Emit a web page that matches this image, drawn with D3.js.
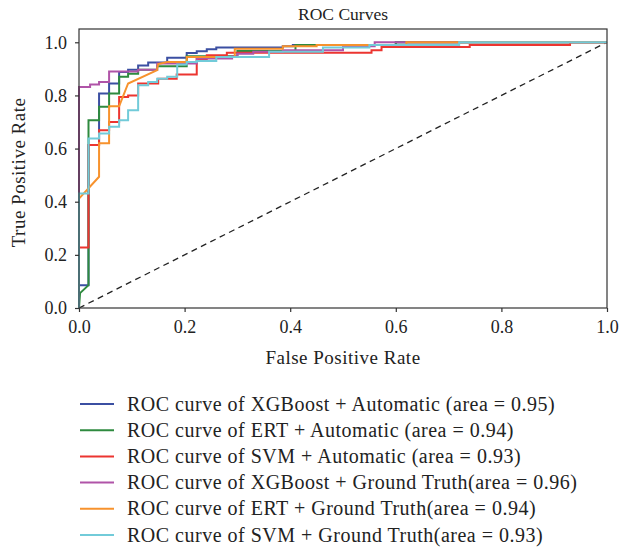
<!DOCTYPE html>
<html>
<head>
<meta charset="utf-8">
<script src="https://cdn.jsdelivr.net/npm/d3@7"></script>
<style>
  body { margin: 0; background: #fff; }
  svg { display: block; font-family: "Liberation Serif", "DejaVu Serif", serif; }
  .axis text { font-size: 18px; fill: #222; }
  .axis path, .axis line { stroke: #333; stroke-width: 1.2; }
</style>
</head>
<body>
<div id="chart"></div>
<script>
// ROC points [fpr, tpr]
const xgbAuto = [[0,0],[0,0.086],[0.018,0.086],[0.018,0.613],[0.038,0.613],[0.038,0.807],[0.057,0.807],[0.057,0.845],[0.076,0.845],[0.076,0.888],[0.093,0.888],[0.093,0.897],[0.112,0.897],[0.112,0.913],[0.131,0.913],[0.131,0.924],[0.167,0.924],[0.167,0.942],[0.204,0.942],[0.204,0.96],[0.223,0.96],[0.223,0.966],[0.242,0.966],[0.242,0.974],[0.26,0.974],[0.26,0.98],[0.386,0.98],[0.386,0.985],[0.405,0.985],[0.405,0.99],[0.6,0.99],[0.6,1],[1,1]];
const ertAuto = [[0,0],[0.002,0.056],[0.018,0.086],[0.018,0.707],[0.038,0.707],[0.038,0.757],[0.057,0.757],[0.057,0.807],[0.076,0.807],[0.076,0.87],[0.093,0.87],[0.093,0.882],[0.112,0.882],[0.112,0.897],[0.148,0.897],[0.148,0.91],[0.204,0.91],[0.204,0.947],[0.3,0.947],[0.3,0.967],[0.41,0.967],[0.41,0.99],[0.6,0.99],[0.6,1],[1,1]];
const svmAuto = [[0,0],[0,0.228],[0.018,0.228],[0.018,0.613],[0.038,0.613],[0.038,0.669],[0.057,0.669],[0.057,0.70],[0.076,0.70],[0.076,0.794],[0.093,0.794],[0.093,0.80],[0.112,0.80],[0.112,0.845],[0.15,0.845],[0.15,0.863],[0.185,0.863],[0.185,0.879],[0.223,0.879],[0.223,0.937],[0.242,0.937],[0.242,0.951],[0.28,0.951],[0.28,0.961],[0.554,0.961],[0.554,0.97],[0.573,0.97],[0.573,0.982],[0.74,0.982],[0.74,0.99],[0.93,0.99],[0.93,1],[1,1]];
const xgbGT = [[0,0],[0,0.832],[0.021,0.832],[0.021,0.841],[0.038,0.841],[0.038,0.851],[0.057,0.851],[0.057,0.89],[0.112,0.89],[0.112,0.897],[0.148,0.897],[0.148,0.92],[0.223,0.92],[0.223,0.939],[0.29,0.939],[0.29,0.947],[0.3,0.947],[0.3,0.957],[0.33,0.957],[0.33,0.964],[0.386,0.964],[0.386,0.97],[0.5,0.97],[0.5,0.985],[0.56,0.985],[0.56,1],[1,1]];
const ertGT = [[0,0],[0,0.412],[0.038,0.494],[0.038,0.62],[0.057,0.62],[0.057,0.759],[0.076,0.759],[0.093,0.845],[0.148,0.895],[0.148,0.9],[0.15,0.918],[0.167,0.926],[0.204,0.926],[0.204,0.945],[0.295,0.945],[0.295,0.976],[0.386,0.976],[0.386,0.985],[0.45,0.985],[0.45,0.99],[0.62,0.99],[0.62,1],[1,1]];
const svmGT = [[0,0],[0,0.431],[0.018,0.431],[0.018,0.638],[0.038,0.638],[0.038,0.657],[0.057,0.657],[0.057,0.682],[0.076,0.682],[0.076,0.707],[0.093,0.707],[0.093,0.744],[0.112,0.744],[0.112,0.838],[0.131,0.838],[0.131,0.851],[0.148,0.851],[0.148,0.863],[0.167,0.863],[0.167,0.87],[0.186,0.87],[0.186,0.916],[0.204,0.916],[0.204,0.926],[0.223,0.926],[0.223,0.93],[0.26,0.93],[0.26,0.945],[0.36,0.945],[0.36,0.964],[0.462,0.964],[0.462,0.98],[0.55,0.98],[0.55,0.99],[0.72,0.99],[0.72,1],[1,1]];

const labels = [
  'ROC curve of XGBoost + Automatic (area = 0.95)',
  'ROC curve of ERT + Automatic (area = 0.94)',
  'ROC curve of SVM + Automatic (area = 0.93)',
  'ROC curve of XGBoost + Ground Truth(area = 0.96)',
  'ROC curve of ERT + Ground Truth(area = 0.94)',
  'ROC curve of SVM + Ground Truth(area = 0.93)'
];
const colors = ['#3b4fa2', '#2e8a3f', '#ec3530', '#b054a8', '#f7922d', '#72cbd9'];
const curves = [xgbAuto, ertAuto, svmAuto, xgbGT, ertGT, svmGT];
const xTicks = [0, 0.2, 0.4, 0.6, 0.8, 1.0];
const yTicks = [0, 0.2, 0.4, 0.6, 0.8, 1.0];

const serif = '"Liberation Serif", "DejaVu Serif", serif';
const width = 619;
const height = 548;
const margin = { top: 29, right: 12, bottom: 240, left: 79 };

const svg = d3.select('#chart')
  .append('svg')
  .attr('width', width)
  .attr('height', height);

const xScale = d3.scaleLinear().domain([0, 1]).range([margin.left, width - margin.right]);
const yScale = d3.scaleLinear().domain([0, 1.05]).range([height - margin.bottom, margin.top]);

// diagonal reference
svg.append('line')
  .attr('x1', xScale(0)).attr('y1', yScale(0))
  .attr('x2', xScale(1)).attr('y2', yScale(1))
  .attr('stroke', '#222')
  .attr('stroke-width', 1.3)
  .attr('stroke-dasharray', '6,4.5');

const line = d3.line()
  .x((d) => xScale(d[0]))
  .y((d) => yScale(d[1]));

curves.forEach((c, i) => {
  svg.append('path')
    .datum(c)
    .attr('d', line)
    .attr('fill', 'none')
    .attr('stroke', colors[i])
    .attr('stroke-width', 2)
    .attr('stroke-linejoin', 'miter');
});

// frame
svg.append('rect')
  .attr('x', xScale(0)).attr('y', yScale(1.05))
  .attr('width', xScale(1) - xScale(0))
  .attr('height', yScale(0) - yScale(1.05))
  .attr('fill', 'none')
  .attr('stroke', '#333')
  .attr('stroke-width', 1.2);

// axes
svg.append('g')
  .attr('class', 'axis')
  .attr('transform', `translate(0, ${yScale(0)})`)
  .call(d3.axisBottom(xScale).tickValues(xTicks).tickFormat(d3.format('.1f')).tickSize(4).tickPadding(8).tickSizeOuter(0))
  .attr('font-family', serif)
  .attr('font-size', 18);

svg.append('g')
  .attr('class', 'axis')
  .attr('transform', `translate(${xScale(0)}, 0)`)
  .call(d3.axisLeft(yScale).tickValues(yTicks).tickFormat(d3.format('.1f')).tickSize(4).tickPadding(8).tickSizeOuter(0))
  .attr('font-family', serif)
  .attr('font-size', 18);

svg.selectAll('.axis .domain').remove();

// title + labels
svg.append('text')
  .attr('x', (xScale(0) + xScale(1)) / 2)
  .attr('y', 20)
  .attr('text-anchor', 'middle')
  .style('font-size', '17.5px')
  .attr('fill', '#222')
  .text('ROC Curves');

svg.append('text')
  .attr('x', (xScale(0) + xScale(1)) / 2)
  .attr('y', 364)
  .attr('text-anchor', 'middle')
  .style('font-size', '19px')
  .style('letter-spacing', '0.5px')
  .attr('fill', '#222')
  .text('False Positive Rate');

svg.append('text')
  .attr('transform', `translate(25, ${yScale(0.51)}) rotate(-90)`)
  .attr('text-anchor', 'middle')
  .style('font-size', '19px')
  .style('letter-spacing', '0.5px')
  .attr('fill', '#222')
  .text('True Positive Rate');

// legend
const legend = svg.append('g').attr('transform', 'translate(80, 404)');
labels.forEach((lab, i) => {
  const g = legend.append('g').attr('transform', `translate(0, ${i * 26.2})`);
  g.append('line')
    .attr('x1', 0).attr('x2', 34)
    .attr('stroke', colors[i])
    .attr('stroke-width', 2);
  g.append('text')
    .attr('x', 47)
    .attr('y', 6.5)
    .style('font-size', '20px')
    .style('letter-spacing', '0.5px')
    .attr('fill', '#222')
    .text(lab);
});
</script>
</body>
</html>
